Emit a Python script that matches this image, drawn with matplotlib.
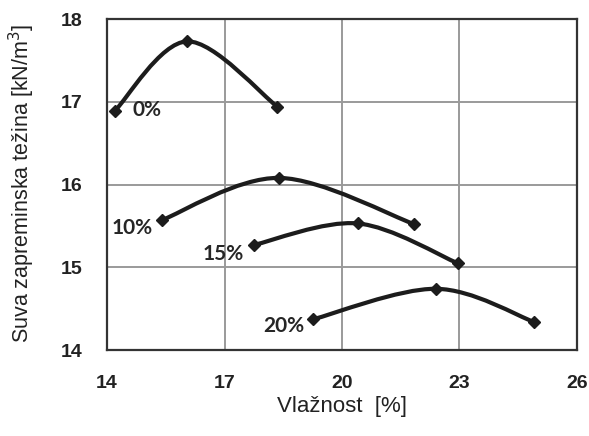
import numpy as np
import matplotlib
matplotlib.use('Agg')
import matplotlib.pyplot as plt
from matplotlib.path import Path
from matplotlib.patches import PathPatch

# moisture content [%] and dry unit weight [kN/m3] for each additive share
series_names = ['0%', '10%', '15%', '20%']
x0 = [14.2, 16.05, 18.35]
y0 = [16.89, 17.73, 16.94]
x10 = [15.4, 18.4, 21.85]
y10 = [15.57, 16.08, 15.52]
x15 = [17.75, 20.4, 22.95]
y15 = [15.27, 15.53, 15.05]
x20 = [19.25, 22.4, 24.9]
y20 = [14.37, 14.74, 14.34]

# label anchors for the series names
label_x = [15.02, 14.64, 16.96, 18.52]
label_y = [16.90, 15.47, 15.16, 14.29]

x_ticks = [14, 17, 20, 23, 26]
y_ticks = [14, 15, 16, 17, 18]


def smooth_path(xs, ys):
    # Excel-style smoothed line: cubic bezier through the points
    p = np.column_stack([xs, ys])
    n = len(p)
    verts = [p[0]]
    codes = [Path.MOVETO]
    for i in range(n - 1):
        pm = p[i - 1] if i > 0 else p[i]
        pn = p[i + 2] if i + 2 < n else p[i + 1]
        c1 = p[i] + (p[i + 1] - pm) / 6.0
        c2 = p[i + 1] - (pn - p[i]) / 6.0
        verts += [c1, c2, p[i + 1]]
        codes += [Path.CURVE4] * 3
    return Path(verts, codes)


fig = plt.figure(figsize=(5.89, 4.36), dpi=100)
ax = fig.add_axes([0.1817, 0.1972, 0.7979, 0.7592])

line_col = '#1c1c1c'
for xs, ys in [(x0, y0), (x10, y10), (x15, y15), (x20, y20)]:
    ax.add_patch(PathPatch(smooth_path(xs, ys), fill=False, lw=3.0,
                           edgecolor=line_col, zorder=3))
    ax.plot(xs, ys, linestyle='none', marker='D', markersize=6.5,
            color=line_col, zorder=4)

for name, lx, ly in zip(series_names, label_x, label_y):
    ax.text(lx, ly, name, fontsize=15, fontweight='bold', family='Lato',
            color='#262626', ha='center', va='center')

ax.set_xlim(14, 26)
ax.set_ylim(14, 18)
ax.set_xticks(x_ticks)
ax.set_yticks(y_ticks)
ax.grid(True, color='#9a9a9a', lw=1.4)
ax.set_axisbelow(True)
for s in ax.spines.values():
    s.set_color('#333333')
    s.set_linewidth(1.6)
ax.tick_params(length=0, pad=18, labelsize=14, labelcolor='#222222')
for lab in ax.get_xticklabels() + ax.get_yticklabels():
    lab.set_fontweight('bold')
    lab.set_family('Liberation Sans')

fig.text(342 / 589, 1 - 406 / 436, 'Vlažnost  [%]', fontsize=16,
         family='Liberation Sans', color='#222222', ha='center', va='center')
fig.text(22 / 589, 1 - 183 / 436, 'Suva zapreminska težina [kN/m$^3$]',
         fontsize=15.5, family='Liberation Sans', color='#222222',
         rotation=90, ha='center', va='center')

fig.savefig('out.png', dpi=100)
